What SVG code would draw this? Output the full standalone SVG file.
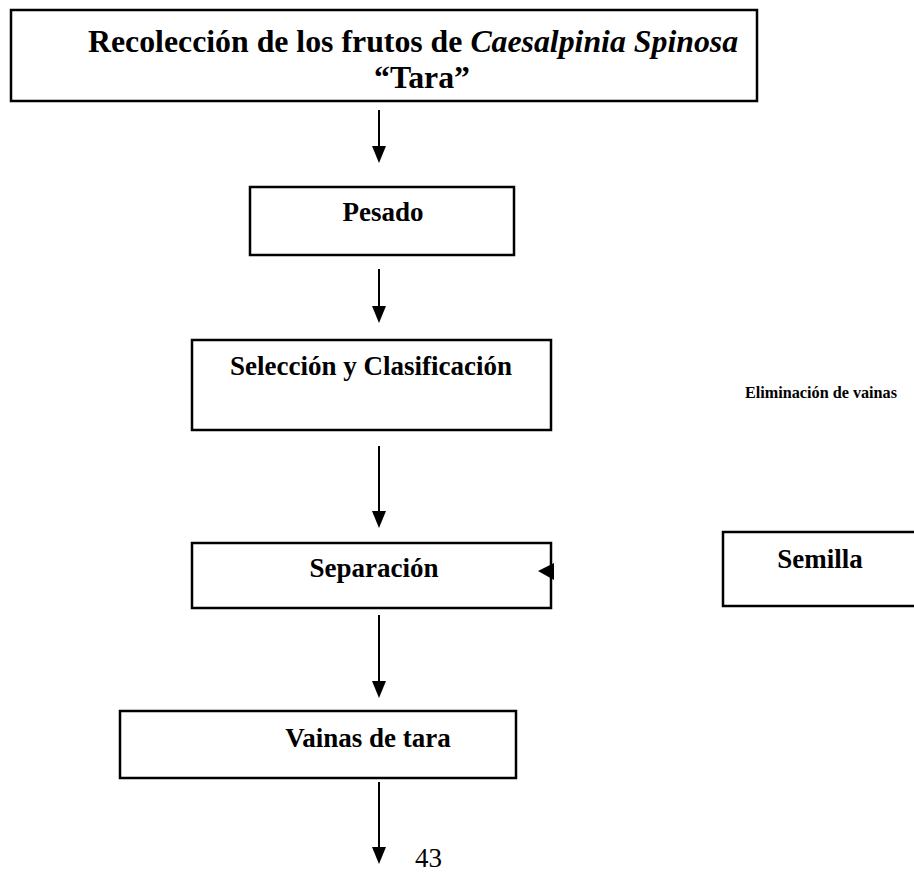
<svg xmlns="http://www.w3.org/2000/svg" width="914" height="873" viewBox="0 0 914 873">
<style>
.box{fill:#fff;stroke:#000;stroke-width:2.5}
.t{font-family:"Liberation Serif","Times New Roman",serif;font-weight:bold;fill:#000}
.c{stroke:#000;stroke-width:2;fill:none}
.h{fill:#000;stroke:none}
</style>
<defs>
<marker id="ah" markerUnits="userSpaceOnUse" markerWidth="17" markerHeight="14" refX="0" refY="7" orient="auto" viewBox="0 0 17 14">
<path d="M0,0 L17,7 L0,14 Z" class="h"/>
</marker>
</defs>
<rect width="914" height="873" fill="#fff"/>
<g id="n-recoleccion">
<rect class="box" x="11" y="10" width="746" height="91"/>
<text class="t" x="88" y="52" font-size="31.8">Recolección de los frutos de <tspan font-style="italic">Caesalpinia Spinosa</tspan></text>
<text class="t" x="422" y="88" font-size="31.8" text-anchor="middle">“Tara”</text>
</g>
<g id="n-pesado">
<rect class="box" x="250" y="187" width="264" height="68"/>
<text class="t" x="383" y="221" font-size="27" text-anchor="middle">Pesado</text>
</g>
<g id="n-seleccion">
<rect class="box" x="192" y="340" width="359" height="90"/>
<text class="t" x="371" y="375" font-size="27" text-anchor="middle">Selección y Clasificación</text>
</g>
<g id="n-eliminacion">
<text class="t" x="745" y="398" font-size="16.2">Eliminación de vainas</text>
</g>
<g id="n-separacion">
<rect class="box" x="192" y="543" width="359" height="65"/>
<text class="t" x="374" y="577" font-size="27" text-anchor="middle">Separación</text>
</g>
<g id="n-semilla">
<rect class="box" x="723" y="532" width="210" height="74"/>
<text class="t" x="820" y="568" font-size="27" text-anchor="middle">Semilla</text>
</g>
<g id="n-vainas">
<rect class="box" x="120" y="711" width="396" height="67"/>
<text class="t" x="368" y="747" font-size="27" text-anchor="middle">Vainas de tara</text>
</g>
<g id="connectors">
<line class="c" x1="379" y1="110" x2="379" y2="146" marker-end="url(#ah)"/>
<line class="c" x1="379" y1="269" x2="379" y2="306" marker-end="url(#ah)"/>
<line class="c" x1="379" y1="446" x2="379" y2="511" marker-end="url(#ah)"/>
<line class="c" x1="379" y1="615" x2="379" y2="681" marker-end="url(#ah)"/>
<line class="c" x1="379" y1="782" x2="379" y2="847" marker-end="url(#ah)"/>
<path class="h" d="M538,571 L554,563 L554,580 Z"/>
</g>
<text x="415" y="867" font-family="Liberation Serif,'Times New Roman',serif" font-size="27" fill="#000">43</text>
</svg>
